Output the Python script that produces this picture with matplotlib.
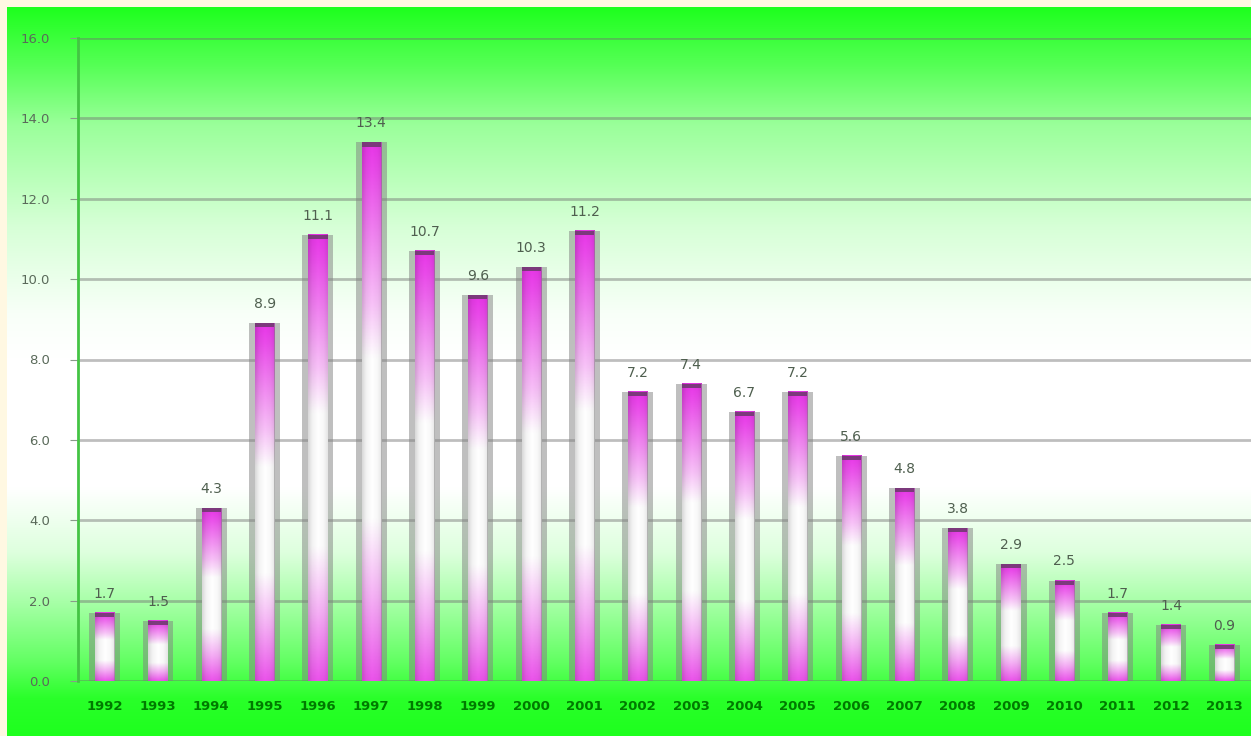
import numpy as np
import matplotlib
matplotlib.use("Agg")
from matplotlib import pyplot as plt
from matplotlib.colors import to_rgb

years = [str(y) for y in range(1992, 2014)]
values = [1.7, 1.5, 4.3, 8.9, 11.1, 13.4, 10.7, 9.6, 10.3, 11.2, 7.2,
          7.4, 6.7, 7.2, 5.6, 4.8, 3.8, 2.9, 2.5, 1.7, 1.4, 0.9]
yticks = [0, 2, 4, 6, 8, 10, 12, 14, 16]

fig = plt.figure(figsize=(12.51, 7.36), dpi=100)
fig.patch.set_facecolor('#fff8e2')

# background gradient: green at top and bottom, white in the middle
bg = fig.add_axes([7 / 1251, 0, 1 - 7 / 1251, 1 - 7 / 736], zorder=-2)
green = np.array(to_rgb('#1eff1e'))
white = np.array([1.0, 1.0, 1.0])
ys = np.linspace(0, 1, 400)
sx = [0, 0.08, 0.16, 0.3, 0.42, 0.48, 0.66, 0.75, 0.82, 0.9, 0.95, 1.0]
sv = [0, 0.25, 0.55, 0.82, 0.97, 1.0, 1.0, 0.85, 0.6, 0.3, 0.05, 0.0]
w = np.interp(ys, sx, sv)
img = green[None, :] * (1 - w[:, None]) + white[None, :] * w[:, None]
img = np.repeat(img[:, None, :], 4, axis=1)
bg.imshow(img, aspect='auto', extent=[0, 1, 0, 1], origin='upper')
bg.set_xlim(0, 1)
bg.set_ylim(0, 1)
bg.axis('off')

ax = fig.add_axes([78 / 1251, 1 - 681 / 736, 1 - 78 / 1251, (681 - 38) / 736])
ax.set_facecolor('none')
x = np.arange(len(years))

for t in yticks:
    ax.axhline(t, color='#707070', alpha=0.45, lw=2, zorder=1)

# bar fill: magenta top, white middle, magenta bottom
tv = np.linspace(0, 1, 150)
mag = np.array(to_rgb('#e836e8'))
vw = np.interp(tv, [0, 0.05, 0.3, 0.4, 0.7, 0.85, 1.0],
               [0.0, 0.1, 0.7, 1.0, 1.0, 0.6, 0.15])
col = mag[None, :] * (1 - vw[:, None]) + white[None, :] * vw[:, None]
hx = np.linspace(0, 1, 30)
shade = np.interp(hx, [0, 0.2, 0.5, 0.8, 1.0], [0.85, 0.95, 1.0, 0.97, 0.9])
bar_img = col[:, None, :] * shade[None, :, None]

bw = 0.58
core = 0.36
side = (bw - core) / 2
for xi, v in zip(x, values):
    ax.imshow(bar_img, extent=[xi - core / 2, xi + core / 2, 0, v], aspect='auto',
              origin='upper', zorder=3)
    for sx0 in (xi - bw / 2, xi + core / 2):
        ax.add_patch(plt.Rectangle((sx0, 0), side, v, facecolor='#808080',
                                   alpha=0.5, lw=0, zorder=4))
    ax.add_patch(plt.Rectangle((xi - core / 2, v - 0.1), core, 0.1,
                               facecolor='#6a3a6a', alpha=0.85, lw=0, zorder=5))
    ax.text(xi, v + 0.3, f"{v:.1f}", ha='center', va='bottom',
            fontsize=10, color='#4f5f4f', zorder=6)

ax.set_xlim(-0.5, len(years) - 0.5)
ax.set_ylim(0, 16)
ax.set_xticks(x)
ax.set_xticklabels(years, fontsize=9.5, color='#007a00', fontweight='bold')
ax.set_yticks(yticks)
ax.set_yticklabels([f"{t:.1f}" for t in yticks], fontsize=9.5, color='#5a6a5a')
ax.tick_params(axis='x', length=0, pad=14)
ax.tick_params(axis='y', length=6, color='#8a9a8a', pad=14)
for s in ['top', 'right', 'bottom']:
    ax.spines[s].set_visible(False)
ax.spines['left'].set_color('#44c444')
ax.spines['left'].set_linewidth(2)

fig.savefig('out.png', dpi=100)
